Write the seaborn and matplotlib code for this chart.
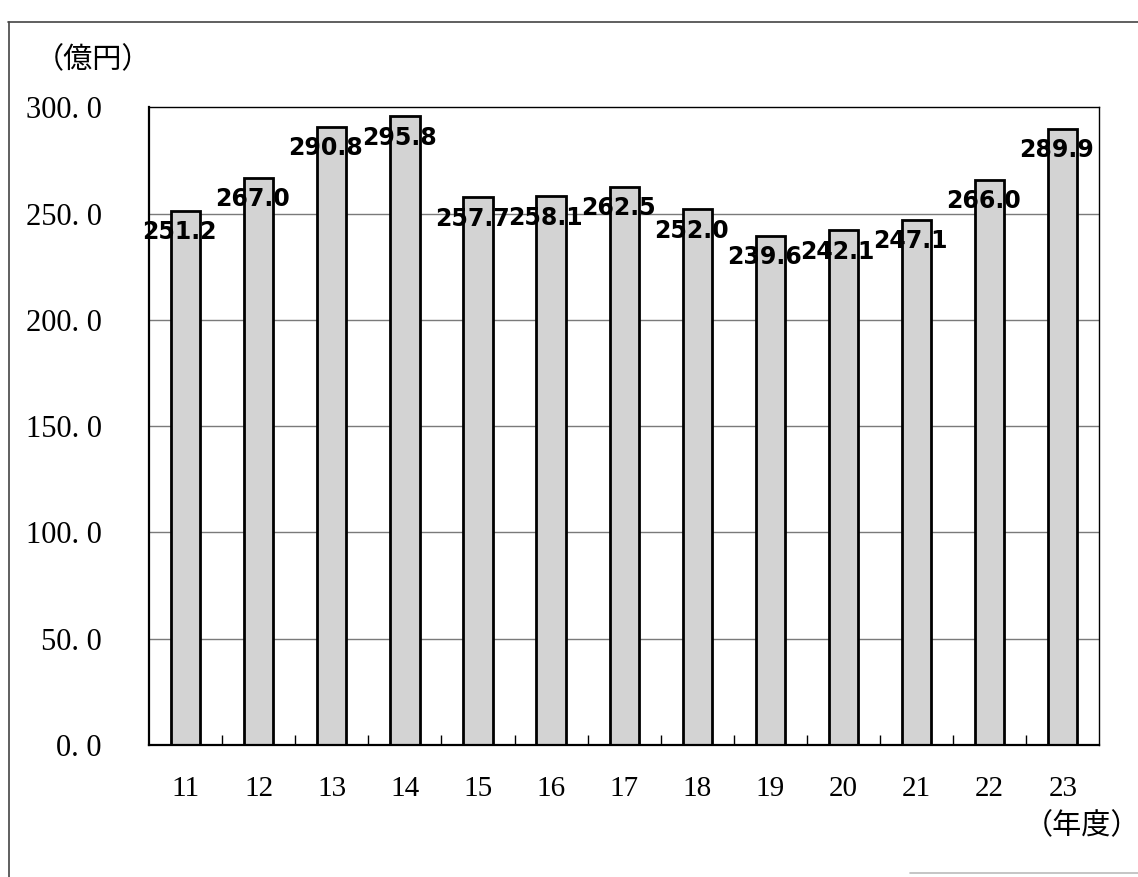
import matplotlib.pyplot as plt
import seaborn as sns
import pandas as pd
from matplotlib.lines import Line2D
from matplotlib.ticker import FixedLocator

years = ['11', '12', '13', '14', '15', '16', '17', '18', '19', '20', '21', '22', '23']
values = [251.2, 267.0, 290.8, 295.8, 257.7, 258.1, 262.5, 252.0, 239.6, 242.1, 247.1, 266.0, 289.9]
yticks = [0, 50, 100, 150, 200, 250, 300]

df = pd.DataFrame({'year': years, 'value': values})

sns.set_style('white')
plt.rcParams['font.family'] = ['Liberation Serif', 'Noto Sans CJK JP', 'DejaVu Sans']
plt.rcParams['text.color'] = 'black'
plt.rcParams['xtick.color'] = 'black'
plt.rcParams['ytick.color'] = 'black'

fig = plt.figure(figsize=(11.38, 8.77), dpi=100)
ax = fig.add_axes([0.131, 0.1505, 0.835, 0.727])

# gridlines behind the bars
for t in yticks[1:-1]:
    ax.axhline(t, color='#7a7a7a', lw=1.0, zorder=0)

sns.barplot(data=df, x='year', y='value', order=years, color='#d3d3d3', saturation=1,
            width=0.4, edgecolor='black', linewidth=2, ax=ax, zorder=2)

# value labels (bold gothic-like, shifted a bit left and below the bar top)
for i, v in enumerate(values):
    ax.text(i - 0.08, v - 10, f'{v:.1f}', ha='center', va='center', fontsize=17,
            fontweight='bold', family='DejaVu Sans', color='black', zorder=3)

ax.set_xlim(-0.5, len(years) - 0.5)
ax.set_ylim(0, 300)
ax.set_yticks(yticks)
ax.set_yticklabels([f'{t:.1f}'.replace('.', '. ') for t in yticks], fontsize=22)
ax.set_xticks(range(len(years)))
ax.set_xticklabels(years, fontsize=21)
ax.tick_params(axis='y', length=0, pad=34)
ax.tick_params(axis='x', which='major', length=0, pad=22)
ax.xaxis.set_minor_locator(FixedLocator([i + 0.5 for i in range(len(years) - 1)]))
ax.tick_params(axis='x', which='minor', bottom=True, direction='in', length=7, width=1,
               color='black')
ax.set_xlabel('')
ax.set_ylabel('')
for s in ax.spines.values():
    s.set_visible(True)
    s.set_color('black')
ax.spines['left'].set_linewidth(1.6)
ax.spines['bottom'].set_linewidth(1.6)
ax.spines['top'].set_linewidth(1.0)
ax.spines['right'].set_linewidth(1.0)

fig.text(93 / 1138, 1 - 60 / 877, '（億円）', ha='center', va='center', fontsize=21,
         family=['Noto Sans CJK JP', 'DejaVu Sans'])
fig.text(1082 / 1138, 1 - 826 / 877, '（年度）', ha='center', va='center', fontsize=21,
         family=['Noto Sans CJK JP', 'DejaVu Sans'])

# outer frame of the scanned page
fig.add_artist(Line2D([8 / 1138, 1.0], [1 - 22 / 877, 1 - 22 / 877], color='#444444', lw=1.2))
fig.add_artist(Line2D([9 / 1138, 9 / 1138], [0, 1 - 22 / 877], color='#444444', lw=1.2))
fig.add_artist(Line2D([910 / 1138, 1.0], [4 / 877, 4 / 877], color='#bbbbbb', lw=1.2))

fig.savefig('out.png', dpi=100)
